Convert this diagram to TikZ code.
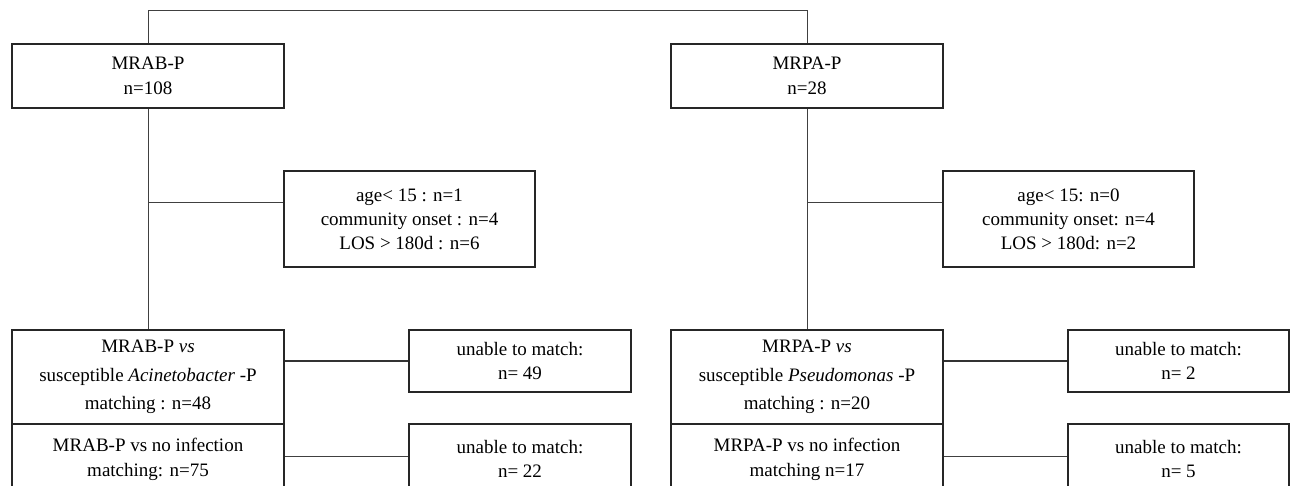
\documentclass[tikz,border=0pt]{standalone}
\usepackage{fontspec}
\setmainfont{Liberation Serif}
\begin{document}
\begin{tikzpicture}[x=1pt,y=-1pt,
  box/.style={draw=black!85, line width=1.6pt, fill=white, inner sep=0pt, align=center,
    font=\fontsize{19}{25}\selectfont, text=black},
  conn/.style={draw=black!75, line width=1pt},
  conn2/.style={draw=black!80, line width=1.4pt}]
\useasboundingbox (0,0) rectangle (1295,485);
\clip (0,0) rectangle (1295,485);
% top row
\node[box, minimum width=272pt, minimum height=64pt] (A) at (148,76) {MRAB-P\\n=108};
\node[box, minimum width=272pt, minimum height=64pt] (B) at (807,76) {MRPA-P\\n=28};
% exclusion boxes
\node[box, minimum width=251pt, minimum height=96pt, font=\fontsize{19}{24}\selectfont] (E1) at (409.5,219)
  {age\textless{} 15 : n=1\\community onset : n=4\\LOS \textgreater{} 180d : n=6};
\node[box, minimum width=251pt, minimum height=96pt, font=\fontsize{19}{24}\selectfont] (E2) at (1068.5,219)
  {age\textless{} 15: n=0\\community onset: n=4\\LOS \textgreater{} 180d: n=2};
% bottom left
\node[box, minimum width=272pt, minimum height=94pt, font=\fontsize{19}{28.5}\selectfont] (C1) at (148,377)
  {MRAB-P \textit{vs}\\susceptible \textit{Acinetobacter} -P\\matching : n=48};
\node[box, minimum width=272pt, minimum height=70pt] (C2) at (148,459)
  {MRAB-P vs no infection\\matching: n=75};
\node[box, minimum width=222pt, minimum height=62pt, font=\fontsize{19}{24}\selectfont] (U1) at (520,361)
  {unable to match:\\n= 49};
\node[box, minimum width=222pt, minimum height=70pt, font=\fontsize{19}{24}\selectfont] (U2) at (520,459)
  {unable to match:\\n= 22};
% bottom right
\node[box, minimum width=272pt, minimum height=94pt, font=\fontsize{19}{28.5}\selectfont] (D1) at (807,377)
  {MRPA-P \textit{vs}\\susceptible \textit{Pseudomonas} -P\\matching : n=20};
\node[box, minimum width=272pt, minimum height=70pt] (D2) at (807,459)
  {MRPA-P vs no infection\\matching n=17};
\node[box, minimum width=221pt, minimum height=62pt, font=\fontsize{19}{24}\selectfont] (V1) at (1178.5,361)
  {unable to match:\\n= 2};
\node[box, minimum width=221pt, minimum height=70pt, font=\fontsize{19}{24}\selectfont] (V2) at (1178.5,459)
  {unable to match:\\n= 5};
% connectors
\draw[conn] (A.north) -- ++(0,-33) -| (B.north);
\draw[conn] (A.south) -- (C1.north);
\draw[conn] (B.south) -- (D1.north);
\coordinate (e1) at (148,202);
\coordinate (e2) at (807,202);
\draw[conn] (e1) -- (e1 -| E1.west);
\draw[conn] (e2) -- (e2 -| E2.west);
\draw[conn2] (U1.west) -- (U1.west -| C1.east);
\coordinate (c2) at (148,456);
\coordinate (d2) at (807,456);
\draw[conn] (c2 -| C2.east) -- (c2 -| U2.west);
\draw[conn2] (V1.west) -- (V1.west -| D1.east);
\draw[conn] (d2 -| D2.east) -- (d2 -| V2.west);
\end{tikzpicture}
\end{document}
